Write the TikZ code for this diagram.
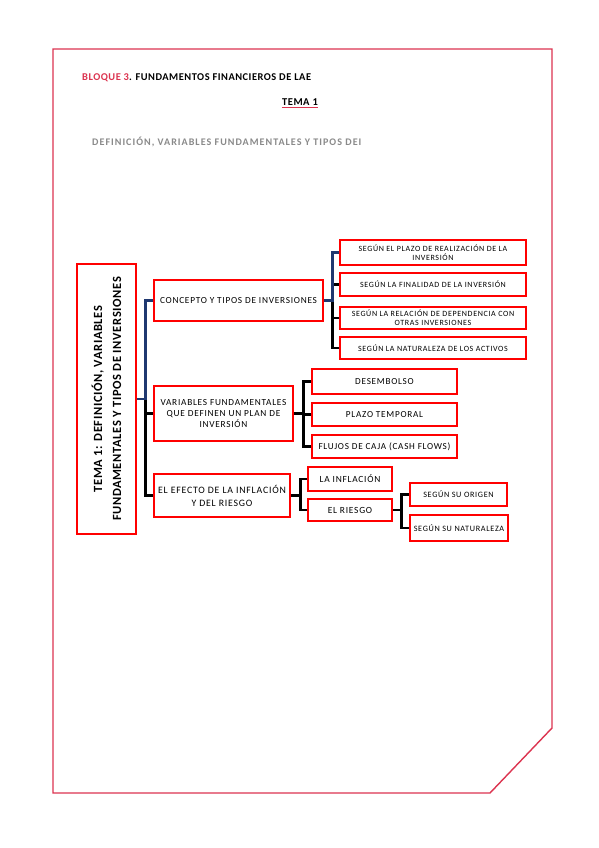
\documentclass[tikz,border=0pt]{standalone}
\usepackage{fontspec}
\usetikzlibrary{calc}
\setmainfont{Carlito}
\newfontfamily\spcd[LetterSpace=8]{Carlito}
\newfontfamily\spbd[LetterSpace=5]{Carlito Bold}
\newfontfamily\spgb[LetterSpace=10]{Carlito Bold}
\definecolor{crim}{HTML}{DC3450}
\definecolor{navy}{HTML}{1F3870}
\definecolor{boxred}{HTML}{FF0000}
\definecolor{gtxt}{HTML}{8A8A8A}
\tikzset{
  bx/.style={draw=boxred, line width=2.8pt, fill=white, inner sep=1pt, align=center,
    font=\spcd\fontsize{8}{9}\selectfont},
  bline/.style={draw=navy, line width=2.4pt},
  kline/.style={draw=black, line width=2.4pt},
}
\begin{document}
\begin{tikzpicture}[x=1pt,y=-1pt]
\useasboundingbox (0,0) rectangle (599,848);
\fill[white] (0,0) rectangle (599,848);
% page frame
\draw[crim, line width=1.4pt] (53,49) -- (552,49) -- (552,728) -- (490,793) -- (53,793) -- cycle;
% header
\node[anchor=west, inner sep=0, font=\spbd\fontsize{10.4}{12}\selectfont] (hdr) at (82,78)
  {\textcolor{crim}{BLOQUE 3}. FUNDAMENTOS FINANCIEROS DE LAE};
\node[inner sep=0, font=\spbd\fontsize{10.5}{12}\selectfont] (tema) at (300,102) {TEMA 1};
\draw[crim, line width=1pt] (tema.south west) ++(0,2) coordinate (ul1) -- (ul1 -| tema.south east);
\node[anchor=west, inner sep=0, text=gtxt, font=\spgb\fontsize{10.1}{12}\selectfont] (sub) at (92,142)
  {DEFINICIÓN, VARIABLES FUNDAMENTALES Y TIPOS DEI};
% main box
\node[bx, minimum width=59, minimum height=270] (main) at (106.5,399) {};
\node[rotate=90, inner sep=0, align=center, font=\spbd\fontsize{12.5}{19}\selectfont] (maintxt) at (main.center)
  {TEMA 1: DEFINICIÓN, VARIABLES\\FUNDAMENTALES Y TIPOS DE INVERSIONES};
% level 1
\node[bx, minimum width=169, minimum height=41, font=\spcd\fontsize{9.3}{10}\selectfont] (conc) at (238.5,300.5) {CONCEPTO Y TIPOS DE INVERSIONES};
\node[bx, minimum width=139, minimum height=55, font=\spcd\fontsize{9.3}{11}\selectfont] (vari) at (223.5,413.5) {VARIABLES FUNDAMENTALES\\QUE DEFINEN UN PLAN DE\\INVERSIÓN};
\node[bx, inner sep=0pt, minimum width=136, minimum height=43, font=\spcd\fontsize{9.8}{13}\selectfont] (efec) at (222,495.5) {EL EFECTO DE LA INFLACIÓN\\Y DEL RIESGO};
% concepto children
\node[bx, minimum width=186, minimum height=25] (c1) at (433,252.5) {SEGÚN EL PLAZO DE REALIZACIÓN DE LA\\INVERSIÓN};
\node[bx, minimum width=186, minimum height=23] (c2) at (433,284.5) {SEGÚN LA FINALIDAD DE LA INVERSIÓN};
\node[bx, minimum width=186, minimum height=22] (c3) at (433,318) {SEGÚN LA RELACIÓN DE DEPENDENCIA CON\\OTRAS INVERSIONES};
\node[bx, minimum width=186, minimum height=22] (c4) at (433,348) {SEGÚN LA NATURALEZA DE LOS ACTIVOS};
% variables children
\node[bx, minimum width=145, minimum height=25, font=\spcd\fontsize{9.2}{10}\selectfont] (v1) at (384.5,381.5) {DESEMBOLSO};
\node[bx, minimum width=145, minimum height=23, font=\spcd\fontsize{9.2}{10}\selectfont] (v2) at (384.5,414.5) {PLAZO TEMPORAL};
\node[bx, minimum width=145, minimum height=23, font=\spcd\fontsize{9.2}{10}\selectfont] (v3) at (384.5,446.5) {FLUJOS DE CAJA (CASH FLOWS)};
% efecto children
\node[bx, minimum width=84, minimum height=24, font=\spcd\fontsize{9.4}{10}\selectfont] (e1) at (350,479) {LA INFLACIÓN};
\node[bx, minimum width=84, minimum height=22, font=\spcd\fontsize{9.4}{10}\selectfont] (e2) at (350,510) {EL RIESGO};
\node[bx, minimum width=97, minimum height=23, font=\spcd\fontsize{8.2}{9}\selectfont] (r1) at (458.5,494.5) {SEGÚN SU ORIGEN};
\node[bx, minimum width=98, minimum height=26, font=\spcd\fontsize{8.2}{9}\selectfont] (r2) at (459,528) {SEGÚN SU NATURALEZA};
% connectors: main
\coordinate (b1) at ($(main.east)+(8,0)$);
\draw[kline] (b1) |- (vari.west);
\draw[kline] (b1) |- (efec.west);
\draw[bline] (main.east) -- (b1) |- (conc.west);
% connectors: concepto
\coordinate (b2) at ($(conc.east)+(8,0)$);
\draw[kline] (b2) |- (c3.west);
\draw[kline] (b2) |- (c4.west);
\draw[kline] (b2 |- c2.west) -- (c2.west);
\draw[bline] (conc.east) -- (b2) |- (c1.west);
% connectors: variables
\coordinate (b3) at ($(vari.east)+(9,0)$);
\draw[kline] (vari.east) -- (b3);
\draw[kline] (b3) |- (v1.west);
\draw[kline] (b3) |- (v2.west);
\draw[kline] (b3) |- (v3.west);
% connectors: efecto
\coordinate (b4) at ($(efec.east)+(9,0)$);
\draw[kline] (efec.east) -- (b4);
\draw[kline] (b4) |- (e1.west);
\draw[kline] (b4) |- (e2.west);
% connectors: riesgo
\coordinate (b5) at ($(e2.east)+(8,0)$);
\draw[kline] (e2.east) -- (b5);
\draw[kline] (b5) |- (r1.west);
\draw[kline] (b5) |- (r2.west);
\end{tikzpicture}
\end{document}
